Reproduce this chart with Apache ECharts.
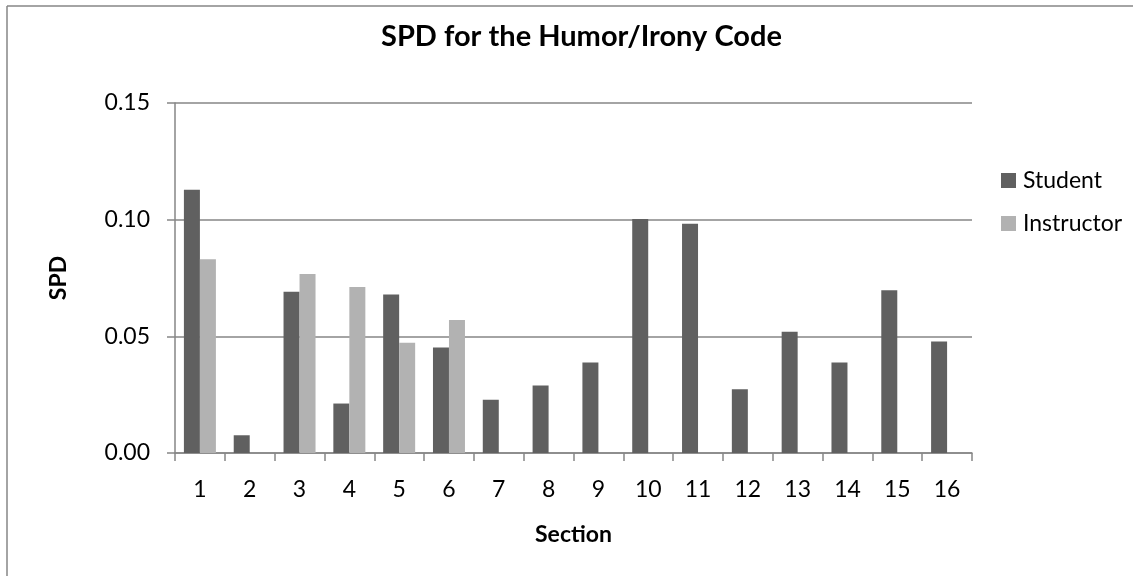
<!DOCTYPE html>
<html>
<head>
<meta charset="utf-8">
<script src="https://cdn.jsdelivr.net/npm/echarts@6/dist/echarts.min.js"></script>
<style>
html,body{margin:0;padding:0;background:#fff;}
#chart{width:1133px;height:576px;}
</style>
</head>
<body>
<div id="chart"></div>
<script>
const categories = ['1','2','3','4','5','6','7','8','9','10','11','12','13','14','15','16'];
const studentValues = [0.1128,0.0076,0.0691,0.0212,0.0679,0.0452,0.0228,0.0289,0.0388,0.1003,0.0982,0.0273,0.0520,0.0388,0.0697,0.0478];
const instructorValues = [0.0830,null,0.0767,0.0711,0.0472,0.0570,null,null,null,null,null,null,null,null,null,null];
const seriesNames = ['Student','Instructor'];
const titleText = 'SPD for the Humor/Irony Code';
const yAxisName = 'SPD';
const xAxisName = 'Section';

const FONT = 'Lato';
const AX = '#868686';
const chart = echarts.init(document.getElementById('chart'), null, {renderer:'canvas'});
chart.setOption({
  animation:false,
  backgroundColor:'#fff',
  title:{
    text:titleText, left:376, top:17,
    textStyle:{fontFamily:FONT, fontWeight:'bold', fontSize:29, color:'#000'}
  },
  graphic:[
    {type:'line', shape:{x1:7,y1:6,x2:1133,y2:6}, style:{stroke:AX,lineWidth:1.5}},
    {type:'line', shape:{x1:7,y1:6,x2:7,y2:576}, style:{stroke:AX,lineWidth:1.5}}
  ],
  legend:{
    orient:'vertical', left:996, top:164, itemWidth:15, itemHeight:15, itemGap:20,
    icon:'rect',
    textStyle:{fontFamily:FONT, fontSize:23, color:'#000', padding:[0,0,0,2]},
    data:seriesNames
  },
  grid:{left:175, right:161, top:103, bottom:123},
  xAxis:{
    type:'category', data:categories,
    name:xAxisName, nameLocation:'middle', nameGap:70,
    nameTextStyle:{fontFamily:FONT, fontWeight:'bold', fontSize:23, color:'#000'},
    axisLine:{lineStyle:{color:AX, width:1.5}},
    axisTick:{show:true, length:8, lineStyle:{color:AX, width:1.5}},
    axisLabel:{fontFamily:FONT, fontSize:23, color:'#000', margin:25}
  },
  yAxis:{
    type:'value', min:0, max:0.15, interval:0.05,
    name:yAxisName, nameLocation:'middle', nameGap:105, nameRotate:90,
    nameTextStyle:{fontFamily:FONT, fontWeight:'bold', fontSize:23, color:'#000'},
    axisLine:{show:true, lineStyle:{color:AX, width:1.5}},
    axisTick:{show:true, length:8, lineStyle:{color:AX, width:1.5}},
    axisLabel:{fontFamily:FONT, fontSize:23, color:'#000', margin:25, formatter:v=>v.toFixed(2)},
    splitLine:{show:true, lineStyle:{color:AX, width:1.5}}
  },
  series:[
    {name:seriesNames[0], type:'bar', data:studentValues, barWidth:16, barGap:'0%',
     itemStyle:{color:'#606060'}},
    {name:seriesNames[1], type:'bar', data:instructorValues, barWidth:16, barGap:'0%',
     itemStyle:{color:'#b2b2b2'}}
  ]
});
</script>
</body>
</html>
